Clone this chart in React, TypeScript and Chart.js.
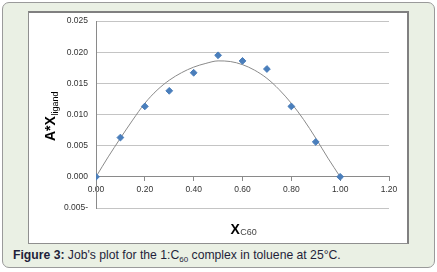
import React, { useEffect, useRef } from "react";
import { Chart, registerables } from "chart.js";

Chart.register(...registerables);

// Measured data points (mole fraction of C60 vs A*X_ligand)
const xValues = [0, 0.1, 0.2, 0.3, 0.4, 0.5, 0.6, 0.7, 0.8, 0.9, 1.0];
const yValues = [0, 0.0063, 0.0113, 0.0138, 0.0167, 0.0195, 0.0186, 0.0173, 0.0113, 0.0056, 0];

// Trend curve
const curveX = [0, 0.05, 0.1, 0.15, 0.2, 0.25, 0.3, 0.35, 0.4, 0.45, 0.5, 0.55, 0.6, 0.65, 0.7, 0.75, 0.8, 0.85, 0.9, 0.95, 1.0];
const curveY = [0, 0.0032, 0.0062, 0.0091, 0.0118, 0.0139, 0.0155, 0.0167, 0.0176, 0.0182, 0.0186, 0.0185, 0.018, 0.0171, 0.0158, 0.014, 0.0118, 0.0092, 0.0062, 0.003, 0];

const xMin = 0;
const xMax = 1.2;
const xStep = 0.2;
const yMin = -0.005;
const yMax = 0.025;
const yStep = 0.005;

const FONT = '"Liberation Sans", Arial, sans-serif';

const titlePlugin = {
  id: "axisTitles",
  afterDraw(chart: any) {
    const ctx = chart.ctx as CanvasRenderingContext2D;
    ctx.save();
    ctx.fillStyle = "#000";
    ctx.textAlign = "left";
    ctx.textBaseline = "alphabetic";
    // Y title
    ctx.save();
    ctx.translate(55, 141);
    ctx.rotate(-Math.PI / 2);
    ctx.font = "bold 14px " + FONT;
    ctx.fillText("A*X", 0, 0);
    const w = ctx.measureText("A*X").width;
    ctx.font = "9px " + FONT;
    ctx.fillText("ligand", w + 0.5, 2.5);
    ctx.restore();
    // X title
    ctx.font = "bold 14px " + FONT;
    ctx.fillText("X", 230.5, 234);
    const wx = ctx.measureText("X").width;
    ctx.font = "9px " + FONT;
    ctx.fillStyle = "#444";
    ctx.fillText("C60", 230.5 + wx + 0.5, 235);
    ctx.restore();
  },
};

export default function App() {
  const ref = useRef<HTMLCanvasElement | null>(null);

  useEffect(() => {
    if (!ref.current) return;
    const chart = new Chart(ref.current, {
      type: "scatter",
      data: {
        datasets: [
          {
            label: "data",
            data: xValues.map((x, i) => ({ x, y: yValues[i] })),
            pointStyle: "rectRot",
            pointRadius: 3.4,
            pointBackgroundColor: "#4a7ebb",
            pointBorderColor: "#4a7ebb",
            pointBorderWidth: 1,
            showLine: false,
          },
          {
            label: "trend",
            data: curveX.map((x, i) => ({ x, y: curveY[i] })),
            showLine: true,
            borderColor: "#8a8a8a",
            borderWidth: 1,
            pointRadius: 0,
            cubicInterpolationMode: "monotone",
          } as any,
        ],
      },
      options: {
        animation: false,
        responsive: false,
        maintainAspectRatio: false,
        events: [],
        layout: { padding: { left: 50, top: 21, right: 48, bottom: 64 } },
        plugins: { legend: { display: false }, tooltip: { enabled: false }, title: { display: false } },
        scales: {
          x: {
            type: "linear",
            min: xMin,
            max: xMax,
            position: { y: 0 } as any,
            afterFit: (s: any) => {
              s.height = 0;
            },
            grid: { display: true, drawOnChartArea: false, drawTicks: true, tickLength: 4, color: "#8a8a8a" },
            border: { display: true, color: "#8a8a8a", width: 1 },
            ticks: {
              stepSize: xStep,
              padding: 4,
              color: "#333",
              font: { family: FONT, size: 8.5 },
              maxRotation: 0,
              callback: (v: any) => Number(v).toFixed(2),
            },
          },
          y: {
            type: "linear",
            min: yMin,
            max: yMax,
            afterFit: (s: any) => {
              s.width = 46;
            },
            grid: { display: true, drawTicks: false, color: "#c4c4c4", lineWidth: 1 },
            border: { display: true, color: "#8a8a8a", width: 1 },
            ticks: {
              stepSize: yStep,
              padding: 8,
              color: "#333",
              font: { family: FONT, size: 8.5 },
              callback: (v: any) => {
                const n = Number(v);
                return n < 0 ? Math.abs(n).toFixed(3) + "-" : n.toFixed(3);
              },
            },
          },
        },
      },
      plugins: [titlePlugin],
    });
    return () => chart.destroy();
  }, []);

  return (
    <div style={{ position: "absolute", left: 0, top: 0, width: 437, height: 272, fontFamily: FONT }}>
      <div
        style={{
          position: "absolute",
          left: 2,
          top: 2,
          width: 433,
          height: 266,
          boxSizing: "border-box",
          border: "1.5px solid #9a9a9a",
          borderRadius: 7,
          background: "#eaf0e4",
        }}
      />
      <div
        style={{
          position: "absolute",
          left: 28,
          top: 11,
          width: 381,
          height: 233,
          boxSizing: "border-box",
          background: "#fff",
          borderTop: "2px solid #808080",
          borderRight: "2px solid #808080",
          borderLeft: "1.5px solid #8f8f8f",
          borderBottom: "1.5px solid #8f8f8f",
        }}
      />
      <div
        style={{
          position: "absolute",
          left: 13,
          top: 248,
          fontSize: 12.2,
          lineHeight: "14px",
          color: "#1f1f3a",
          whiteSpace: "nowrap",
        }}
      >
        <b>Figure 3:</b> Job's plot for the 1:C
        <span style={{ fontSize: 8, position: "relative", top: 3 }}>60</span> complex in toluene at 25°C.
      </div>
      <canvas ref={ref} width={437} height={272} style={{ position: "absolute", left: 0, top: 0 }} />
    </div>
  );
}
